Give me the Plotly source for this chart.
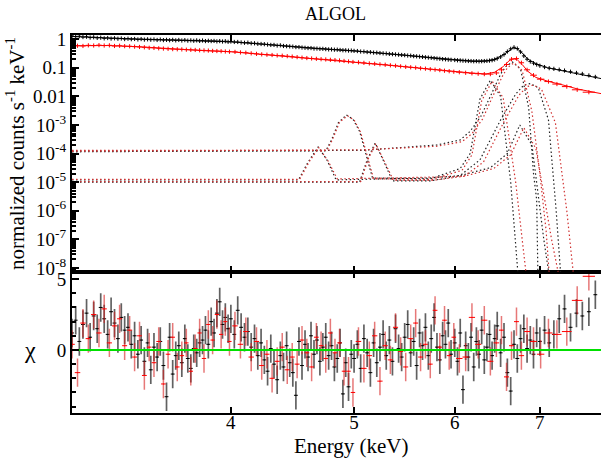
import plotly.graph_objects as go

# ---------------- data ----------------
E_black = [3.00,3.02,3.04,3.06,3.08,3.10,3.12,3.14,3.16,3.18,3.20,3.22,3.24,3.26,3.28,3.30,3.32,3.34,3.36,3.38,
           3.40,3.42,3.44,3.46,3.48,3.50,3.52,3.54,3.56,3.58,3.60,3.62,3.64,3.66,3.68,3.70,3.72,3.74,3.76,3.78,
           3.80,3.82,3.84,3.86,3.88,3.90,3.92,3.94,3.96,3.98,
           4.000,4.025,4.050,4.075,4.100,4.125,4.150,4.175,4.200,4.225,4.250,4.275,4.300,4.325,4.350,4.375,4.400,4.425,4.450,4.475,
           4.500,4.525,4.550,4.575,4.600,4.625,4.650,4.675,4.700,4.725,4.750,4.775,4.800,4.825,4.850,4.875,4.900,4.925,4.950,4.975,
           5.00,5.03,5.06,5.09,5.12,5.15,5.18,5.21,5.24,5.27,5.30,5.33,5.36,5.39,5.42,5.45,5.48,5.51,5.54,5.57,
           5.60,5.63,5.66,5.69,5.72,5.75,5.78,5.81,5.84,5.87,5.90,5.93,5.96,
           6.00,6.03,6.06,6.09,6.12,6.15,6.18,6.21,6.24,6.27,6.30,6.33,6.36,6.39,6.42,6.45,6.48,
           6.52,6.56,6.60,6.64,6.68,6.72,6.76,6.80,6.84,6.88,6.92,6.96,
           7.00,7.06,7.12,7.18,7.25,7.32,7.40,7.48,7.56,7.65,7.74]
rate_black = [1.30,1.24,1.27,1.19,1.22,1.14,1.17,1.11,1.13,1.07,1.10,1.05,1.08,1.04,1.06,1.01,1.04,1.00,1.02,0.98,
              1.01,0.97,0.99,0.96,0.98,0.94,0.97,0.93,0.95,0.92,0.95,0.91,0.94,0.90,0.93,0.89,0.91,0.88,0.91,0.87,
              0.90,0.86,0.88,0.86,0.87,0.84,0.86,0.83,0.85,0.81,
              0.83,0.80,0.80,0.77,0.75,0.76,0.72,0.72,0.69,0.68,0.67,0.65,0.63,0.63,0.60,0.61,0.58,0.57,0.56,0.55,
              0.53,0.53,0.51,0.50,0.49,0.49,0.47,0.47,0.46,0.46,0.45,0.44,0.44,0.43,0.43,0.42,0.41,0.41,0.40,0.40,
              0.39,0.385,0.37,0.368,0.355,0.352,0.34,0.337,0.328,0.32,0.315,0.306,0.30,0.294,0.288,0.281,0.277,0.269,0.265,0.256,
              0.252,0.246,0.240,0.233,0.228,0.223,0.218,0.211,0.207,0.201,0.198,0.193,0.190,
              0.187,0.183,0.181,0.177,0.176,0.173,0.172,0.169,0.171,0.168,0.170,0.172,0.174,0.178,0.184,0.195,0.21,
              0.24,0.29,0.37,0.46,0.52,0.47,0.36,0.26,0.20,0.165,0.145,0.13,
              0.118,0.106,0.097,0.092,0.086,0.080,0.073,0.066,0.061,0.054,0.048]
resid_black = [1.2,2.1,0.6,1.8,2.6,0.9,
               2.4,1.5,3.0,2.2,1.1,2.7,1.9,0.8,2.3,1.4,
               1.6,0.4,1.0,-0.3,0.7,
               -0.8,0.5,-1.4,0.2,-0.5,
               0.6,-1.1,-3.3,0.9,-1.7,-0.4,0.3,-0.9,0.8,-0.6,-1.3,0.1,-0.2,0.5,
               0.7,1.4,0.4,2.0,1.2,2.6,3.4,1.8,2.3,1.5,
               2.2,1.1,2.8,1.6,0.9,
               1.3,0.2,0.8,-0.4,0.5,
               -0.7,-1.5,0.1,-1.0,-2.1,-0.4,-1.2,0.3,-0.9,-1.6,
               -3.2,0.6,-1.1,0.4,-0.5,1.0,-0.3,0.7,-0.8,0.2,
               0.9,-0.4,0.3,-1.2,-0.6,0.5,-3.1,-0.9,-2.6,-0.3,
               -0.6,0.4,-1.3,0.8,-0.2,-1.6,0.5,-0.9,0.2,1.1,-0.4,
               0.7,-0.8,1.5,0.1,-0.5,0.9,1.8,-0.2,0.6,-1.1,1.2,
               0.3,1.6,-0.4,0.8,2.3,0.2,-0.7,1.0,0.4,1.9,-0.3,
               0.5,-0.8,1.2,-2.8,0.3,-0.5,0.9,-1.2,0.6,-0.3,1.4,-0.7,0.2,1.1,-0.4,0.8,1.7,
               -0.2,0.9,-1.6,-2.9,0.4,-0.6,0.8,1.5,0.1,0.7,-0.3,1.2,
               0.6,1.4,0.5,1.1,2.2,2.9,1.6,2.6,2.4,2.7,3.9]

E_red = [3.00,3.03,3.06,3.09,3.12,3.15,3.18,3.21,3.24,3.27,3.30,3.33,3.36,3.39,3.42,3.45,3.48,3.51,3.54,3.57,
         3.60,3.63,3.66,3.69,3.72,3.75,3.78,3.81,3.84,3.87,3.90,3.93,3.96,3.99,
         4.03,4.07,4.11,4.15,4.19,4.23,4.27,4.31,4.35,4.39,4.43,4.47,4.51,4.55,4.59,4.63,4.67,4.71,4.75,4.79,
         4.83,4.87,4.91,4.95,4.99,
         5.04,5.09,5.14,5.19,5.24,5.29,5.34,5.39,5.44,5.49,5.54,5.59,5.64,5.69,5.74,5.79,5.84,5.89,5.94,5.99,
         6.05,6.12,6.19,6.26,6.33,6.40,6.47,6.53,6.59,6.65,6.71,6.77,6.84,6.92,7.01,7.11,7.22,7.35,7.49,7.65]
halfwidth_red = [0.015]*34 + [0.02]*25 + [0.025]*20 + \
                [0.035,0.035,0.035,0.035,0.035,0.035,0.033,0.03,0.03,0.03,0.03,0.033,0.037,0.042,0.047,0.052,0.06,0.065,0.072,0.085]
rate_red = [0.57,0.59,0.58,0.61,0.60,0.62,0.60,0.61,0.58,0.59,0.57,0.565,0.55,0.535,0.52,0.50,0.495,0.48,0.47,0.46,
            0.45,0.445,0.44,0.43,0.425,0.42,0.41,0.405,0.40,0.39,0.385,0.38,0.372,0.365,
            0.36,0.345,0.337,0.32,0.307,0.295,0.287,0.28,0.27,0.265,0.255,0.246,0.236,0.226,0.219,0.212,0.206,0.20,0.196,0.19,
            0.186,0.18,0.173,0.166,0.16,
            0.155,0.149,0.142,0.138,0.132,0.128,0.122,0.118,0.112,0.108,0.104,0.101,0.096,0.093,0.089,0.086,0.083,0.079,0.076,0.073,
            0.070,0.067,0.064,0.062,0.060,0.060,0.066,0.085,0.13,0.20,0.21,0.15,0.085,0.055,0.040,0.033,0.027,0.022,0.017,0.014]
resid_red = [0.4,-1.6,1.9,0.8,2.5,1.2,2.9,0.5,1.7,2.2,0.3,1.4,-0.5,1.0,-1.8,0.2,-0.9,0.6,-2.4,-0.3,
             0.9,-1.2,-0.4,0.5,-1.5,0.1,1.2,-0.6,1.8,0.7,2.5,1.1,2.0,0.6,
             1.7,0.4,1.3,-0.5,0.6,-1.1,-0.3,-2.0,-0.8,0.2,-1.4,-0.5,-1.0,0.7,-0.2,-1.2,0.9,0.3,-0.6,1.2,
             -0.2,0.5,-1.5,-1.5,-3.0,
             0.6,-1.3,-0.4,1.0,-2.2,0.3,-0.7,1.6,-0.1,-1.2,0.8,1.9,-0.5,0.4,-1.0,2.8,0.2,2.1,-0.4,0.9,
             -0.6,-0.5,2.3,0.4,2.1,-0.8,0.5,1.4,-1.9,0.3,2.0,-0.4,1.3,0.6,-0.3,1.2,1.1,1.3,3.5,5.2]

E_model = [3.0,3.2,3.4,3.6,3.8,4.0,4.2,4.4,4.6,4.8,5.0,5.2,5.4,5.6,5.8,6.0,6.2,6.35,6.45,6.55,
           6.62,6.67,6.72,6.78,6.85,6.95,7.1,7.3,7.5,7.82]
model_black = [1.24,1.08,1.00,0.94,0.88,0.81,0.69,0.58,0.49,0.44,0.39,0.335,0.293,0.253,0.218,0.187,0.171,0.174,0.20,0.28,
               0.41,0.50,0.46,0.33,0.20,0.14,0.10,0.078,0.060,0.042]
model_red = [0.59,0.60,0.54,0.45,0.40,0.365,0.305,0.262,0.218,0.188,0.158,0.134,0.116,0.099,0.085,0.073,0.065,0.061,0.07,0.11,
             0.175,0.21,0.19,0.13,0.075,0.046,0.034,0.025,0.018,0.0125]

# model components (dotted), black and red
comp_black = [
    ([3.0,4.75,4.80,4.86,4.93,4.99,5.05,5.11,5.17,5.74,6.06,6.17,6.28,6.40,6.52,6.64,6.75],
     [1.23e-4,1.23e-4,3.0e-4,1.2e-3,2.24e-3,1.6e-3,6e-4,9e-5,1.4e-5,1.3e-5,3e-5,1e-4,8e-3,0.037,0.01,1e-5,1e-9]),
    ([3.0,5.08,5.81,6.06,6.17,6.29,6.40,6.52,6.58,6.66,6.76,6.86,6.92,6.96,6.98],
     [1.15e-4,1.3e-4,2.0e-4,3e-4,6e-4,2e-3,1e-2,0.06,0.11,0.16,0.09,4e-3,2e-5,2.4e-6,1e-9]),
    ([3.0,4.52,4.60,4.685,4.76,4.84,5.74,6.06,6.28,6.52,6.70,6.80,6.88,6.98,7.11,7.21,7.29],
     [1.19e-5,1.19e-5,5e-5,1.7e-4,6e-5,1.2e-5,1.4e-5,1.7e-5,6e-5,1.5e-3,0.012,0.025,0.028,0.02,1.5e-3,1e-6,1e-9]),
    ([3.0,5.05,5.12,5.195,5.27,5.36,5.74,6.06,6.40,6.60,6.75,6.90,7.05,7.16],
     [1.0e-5,1.0e-5,6e-5,2.34e-4,6e-5,1.1e-5,1.1e-5,1.7e-5,3.2e-5,1e-4,1e-3,2e-4,1e-7,1e-9]),
]
comp_red = [
    ([3.0,4.76,4.81,4.87,4.94,5.00,5.06,5.12,5.18,5.76,6.08,6.19,6.30,6.42,6.55,6.70,6.86],
     [1.3e-4,1.3e-4,3.2e-4,1.25e-3,2.1e-3,1.5e-3,5.5e-4,8e-5,1.3e-5,1.25e-5,2.6e-5,9e-5,7e-3,0.034,0.009,1e-5,1e-9]),
    ([3.0,5.08,5.81,6.08,6.19,6.31,6.42,6.54,6.60,6.68,6.78,6.90,7.00,7.08,7.14],
     [1.2e-4,1.35e-4,1.8e-4,2.6e-4,5e-4,1.6e-3,9e-3,0.05,0.1,0.15,0.08,3e-3,2e-5,2e-7,1e-9]),
    ([3.0,4.53,4.61,4.69,4.77,4.85,5.76,6.10,6.32,6.56,6.74,6.84,6.92,7.02,7.20,7.35,7.47],
     [1.25e-5,1.25e-5,5.2e-5,1.6e-4,5.5e-5,1.3e-5,1.5e-5,1.6e-5,5e-5,1.3e-3,0.011,0.022,0.025,0.018,1.2e-3,1e-6,1e-9]),
    ([3.0,5.06,5.13,5.20,5.28,5.37,5.76,6.10,6.44,6.64,6.80,6.95,7.15,7.30],
     [1.05e-5,1.05e-5,6.5e-5,2.2e-4,5.5e-5,1.15e-5,1.15e-5,1.6e-5,3e-5,9e-5,8e-4,1.5e-4,1e-7,1e-9]),
]

top_tickvals = [1, 0.1, 0.01, 1e-3, 1e-4, 1e-5, 1e-6, 1e-7, 1e-8]
top_ticktext = ["1", "0.1", "0.01", "10<sup>-3</sup>", "10<sup>-4</sup>", "10<sup>-5</sup>",
                "10<sup>-6</sup>", "10<sup>-7</sup>", "10<sup>-8</sup>"]
x_tickvals = [4, 5, 6, 7]

# ---------------- figure ----------------
BLACK = "#000000"
RED = "#ff0000"
FONT = "Liberation Serif, Times New Roman, serif"
DOT = "1.5px,2.5px"

fig = go.Figure()

for ex, vy in comp_black:
    fig.add_trace(go.Scatter(x=ex, y=vy, mode="lines", xaxis="x2", yaxis="y2",
                             line=dict(color="#222222", width=1.2, dash=DOT), hoverinfo="skip"))
for ex, vy in comp_red:
    fig.add_trace(go.Scatter(x=ex, y=vy, mode="lines", xaxis="x2", yaxis="y2",
                             line=dict(color="#d03030", width=1.2, dash=DOT), hoverinfo="skip"))

fig.add_trace(go.Scatter(x=E_model, y=model_red, mode="lines", xaxis="x2", yaxis="y2",
                         line=dict(color=RED, width=1)))
fig.add_trace(go.Scatter(x=E_model, y=model_black, mode="lines", xaxis="x2", yaxis="y2",
                         line=dict(color=BLACK, width=1)))

fig.add_trace(go.Scatter(x=E_red, y=rate_red, mode="markers", xaxis="x2", yaxis="y2",
                         marker=dict(symbol="line-ns-open", size=3, color=RED, line=dict(color=RED, width=1)),
                         error_x=dict(type="data", array=halfwidth_red, color=RED, thickness=1, width=0)))
fig.add_trace(go.Scatter(x=E_black, y=rate_black, mode="markers", xaxis="x2", yaxis="y2",
                         marker=dict(symbol="line-ns-open", size=3, color=BLACK, line=dict(color=BLACK, width=1)),
                         error_x=dict(type="percent", value=0.35, color=BLACK, thickness=1, width=0)))

fig.add_trace(go.Scatter(x=E_black, y=resid_black, mode="markers", xaxis="x", yaxis="y",
                         marker=dict(size=1, color=BLACK),
                         error_y=dict(type="constant", value=1, color="rgba(0,0,0,0.62)", thickness=1.7, width=0),
                         error_x=dict(type="percent", value=0.35, color=BLACK, thickness=1, width=0)))
fig.add_trace(go.Scatter(x=E_red, y=resid_red, mode="markers", xaxis="x", yaxis="y",
                         marker=dict(size=1, color=RED),
                         error_y=dict(type="constant", value=1, color="rgba(215,30,30,0.6)", thickness=1.5, width=0),
                         error_x=dict(type="data", array=halfwidth_red, color=RED, thickness=1, width=0)))
fig.add_trace(go.Scatter(x=[3.0, 7.82], y=[0, 0], mode="lines", xaxis="x", yaxis="y",
                         line=dict(color="#00e000", width=2)))

axis_common = dict(showline=True, linecolor="black", linewidth=2, ticks="inside",
                   tickcolor="black", showgrid=False, zeroline=False,
                   tickfont=dict(family=FONT, size=19, color="black"))

minor_top = [m * 10.0 ** k for k in range(-9, 1) for m in range(2, 10)]

fig.update_layout(
    width=601, height=460,
    margin=dict(l=72, r=0, t=35, b=47),
    paper_bgcolor="white", plot_bgcolor="white",
    showlegend=False,
    xaxis=dict(type="log", range=[0.4771, 0.8932], domain=[0, 1], anchor="y",
               tickvals=x_tickvals, ticktext=[str(v) for v in x_tickvals], ticklen=6, tickwidth=1.5,
               ticklabelstandoff=-9, mirror="allticks", **axis_common),
    xaxis2=dict(type="log", range=[0.4771, 0.8932], domain=[0, 1], anchor="y2", matches="x",
                tickvals=x_tickvals, showticklabels=False, ticklen=6, tickwidth=1.5,
                mirror="allticks", **axis_common),
    yaxis=dict(domain=[0, 0.374], range=[-4.45, 5.53], anchor="x",
               tickvals=[0, 5], ticktext=["0", "5"], ticklen=7, tickwidth=1.5,
               minor=dict(ticks="inside", ticklen=4, dtick=1, tickcolor="black"),
               **axis_common),
    yaxis2=dict(type="log", domain=[0.374, 1], range=[-8.13, 0.147], anchor="x2",
                tickvals=top_tickvals, ticktext=top_ticktext, ticklen=7, tickwidth=1.5,
                minor=dict(ticks="inside", ticklen=3.5, tickvals=minor_top, tickcolor="black"),
                **axis_common),
    annotations=[
        dict(text="ALGOL", xref="paper", yref="paper", x=0.499, y=1.0556, showarrow=False,
             font=dict(family=FONT, size=18, color="black"), xanchor="center", yanchor="middle"),
        dict(text="normalized counts s<sup>-1</sup> keV<sup>-1</sup>", xref="paper", yref="paper",
             x=-0.1059, y=0.688, textangle=-90, showarrow=False,
             font=dict(family=FONT, size=21, color="black"), xanchor="center", yanchor="middle"),
        dict(text="χ", xref="paper", yref="paper", x=-0.079, y=0.1667, showarrow=False,
             font=dict(family=FONT, size=24, color="black"), xanchor="center", yanchor="middle"),
        dict(text="Energy (keV)", xref="paper", yref="paper", x=0.529, y=-0.0873, showarrow=False,
             font=dict(family=FONT, size=21, color="black"), xanchor="center", yanchor="middle"),
    ],
)

fig.write_html("out.html", config={"displayModeBar": False},
               post_script="document.body.style.margin='0px';")
